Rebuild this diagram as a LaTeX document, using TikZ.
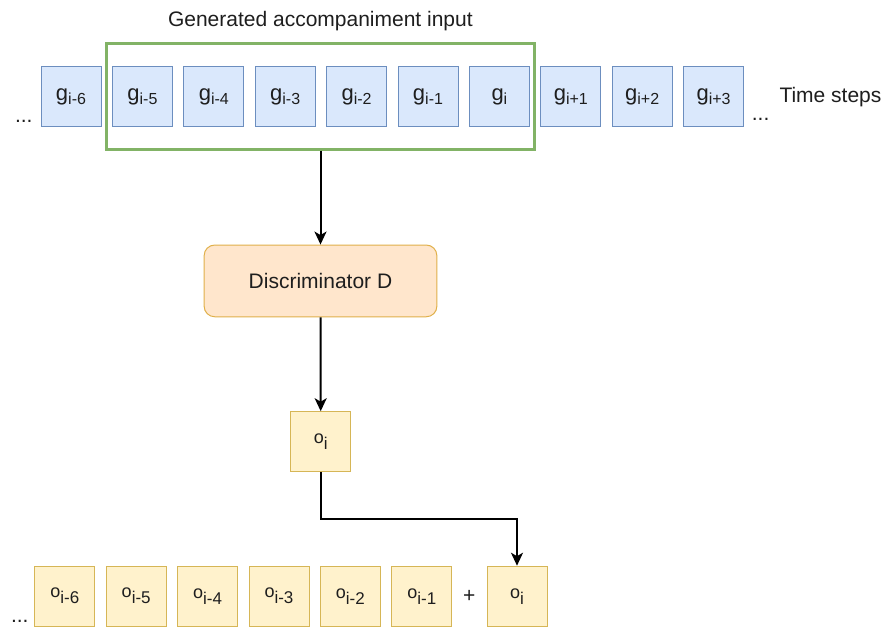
\documentclass[tikz,border=0pt]{standalone}
\usepackage{fontspec}
\setmainfont{Liberation Sans}
\usetikzlibrary{arrows.meta}
\definecolor{txt}{HTML}{1E1E1E}
\definecolor{bluefill}{HTML}{DAE8FC}
\definecolor{bluedraw}{HTML}{6C8EBF}
\definecolor{yelfill}{HTML}{FFF2CC}
\definecolor{yeldraw}{HTML}{D6B656}
\definecolor{orfill}{HTML}{FFE6CC}
\definecolor{ordraw}{HTML}{E0B04A}
\definecolor{winline}{HTML}{82B366}
% symbol with a lowered index, as in g_{i-5} and o_{i-5}
\newcommand{\gtxt}[1]{\fontsize{22}{26}\selectfont g\raisebox{-4pt}{\fontsize{16}{19}\selectfont #1}}
\newcommand{\otxt}[1]{\fontsize{18}{21}\selectfont o\raisebox{-6pt}{\fontsize{17}{20}\selectfont #1}}
\begin{document}
\begin{tikzpicture}[x=1pt,y=-1pt,
  every node/.style={text=txt, font=\fontsize{21}{25}\selectfont},
  gbox/.style={draw=bluedraw, fill=bluefill, line width=1pt, minimum width=60pt, minimum height=60pt, inner sep=0pt},
  obox/.style={draw=yeldraw, fill=yelfill, line width=1pt, minimum width=60pt, minimum height=60pt, inner sep=0pt},
  discbox/.style={draw=ordraw, fill=orfill, line width=1pt, rounded corners=10.5pt, minimum width=232.7pt, minimum height=71.7pt, inner sep=0pt},
  window/.style={draw=winline, line width=3pt, minimum width=428.5pt, minimum height=105.5pt, inner sep=0pt},
  arr/.style={draw=black, line width=2pt, -{Stealth[length=13pt,width=12pt,inset=3.5pt]}}
]
\useasboundingbox (0,0) rectangle (886,630);

% input window around the seven generated steps
\node[window] (win) at (320.5,96.25) {};
\node[anchor=base] (title) at (320.4,26) {Generated accompaniment input};

% generated accompaniment time steps
\node[gbox] (g6m) at (71.0,96.7) {\gtxt{i-6}};
\node[gbox] (g5m) at (142.4,96.7) {\gtxt{i-5}};
\node[gbox] (g4m) at (213.8,96.7) {\gtxt{i-4}};
\node[gbox] (g3m) at (285.2,96.7) {\gtxt{i-3}};
\node[gbox] (g2m) at (356.6,96.7) {\gtxt{i-2}};
\node[gbox] (g1m) at (428.0,96.7) {\gtxt{i-1}};
\node[gbox] (g0) at (499.4,96.7) {\gtxt{i}};
\node[gbox] (g1p) at (570.8,96.7) {\gtxt{i+1}};
\node[gbox] (g2p) at (642.2,96.7) {\gtxt{i+2}};
\node[gbox] (g3p) at (713.6,96.7) {\gtxt{i+3}};
\node[anchor=base] (dotsgl) at (23.8,122) {...};
\node[anchor=base] (dotsgr) at (760.6,120) {...};
\node[anchor=base west, inner sep=0pt] (steps) at (779.3,102) {Time steps};

% discriminator and its output
\node[discbox] (disc) at (320.5,280.9) {Discriminator D};
\node[obox] (omid) at (320.7,441.7) {\otxt{i}};

% output sequence
\node[obox] (o6m) at (64.8,596.2) {\otxt{i-6}};
\node[obox] (o5m) at (136.2,596.2) {\otxt{i-5}};
\node[obox] (o4m) at (207.6,596.2) {\otxt{i-4}};
\node[obox] (o3m) at (279.0,596.2) {\otxt{i-3}};
\node[obox] (o2m) at (350.4,596.2) {\otxt{i-2}};
\node[obox] (o1m) at (421.8,596.2) {\otxt{i-1}};
\node[obox] (onow) at (517.0,596.2) {\otxt{i}};
\node (plus) at (469.3,596.7) {+};
\node[anchor=base] (dotsol) at (19.8,622) {...};

% connectors
\coordinate (bend) at (320.7,519.3);
\draw[arr] (win.south) -- (disc.north);
\draw[arr] (disc.south) -- (omid.north);
\draw[arr] (omid.south) -- (bend) -| (onow.north);
\end{tikzpicture}
\end{document}
